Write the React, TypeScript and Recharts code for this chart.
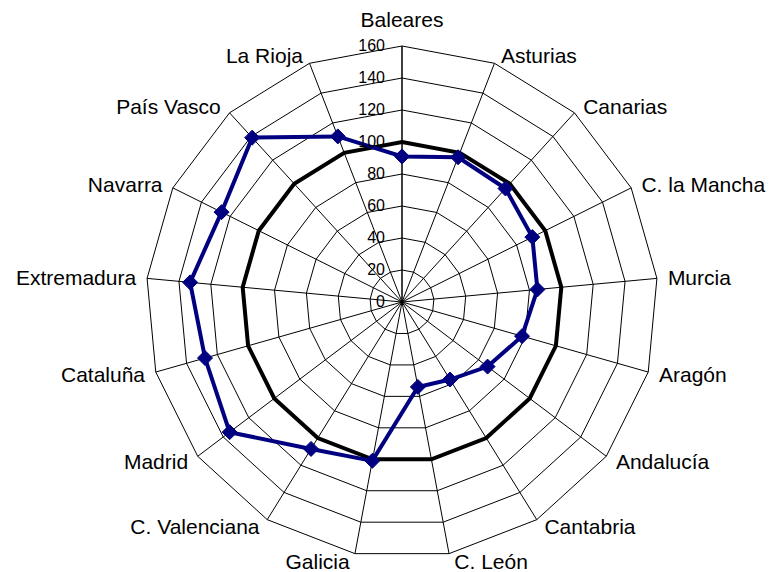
import { RadarChart, Radar, PolarGrid, PolarAngleAxis, PolarRadiusAxis } from 'recharts';

const REGIONS = [
    'Baleares',
    'Asturias',
    'Canarias',
    'C. la Mancha',
    'Murcia',
    'Aragón',
    'Andalucía',
    'Cantabria',
    'C. León',
    'Galicia',
    'C. Valenciana',
    'Madrid',
    'Cataluña',
    'Extremadura',
    'Navarra',
    'País Vasco',
    'La Rioja',
];

const INDEX_VALUES = [91, 97, 96, 91, 85, 78, 67, 57, 54, 101, 108, 135, 128, 133, 126, 139, 111];

// national average = 100
const BASELINE = [100, 100, 100, 100, 100, 100, 100, 100, 100, 100, 100, 100, 100, 100, 100, 100, 100];

const RADIUS_TICKS = [0, 20, 40, 60, 80, 100, 120, 140, 160];

const CX = 402;
const CY = 302;
const OUTER = 256;
const FONT = '"Liberation Sans", Arial, sans-serif';
const NAVY = '#000080';

const chartData = REGIONS.map((name, i) => ({
    name,
    value: INDEX_VALUES[i],
    base: BASELINE[i],
}));

function RegionTick(props: any) {
    const name: string = props.payload?.value;
    const i = REGIONS.indexOf(name);
    const theta = (i * 2 * Math.PI) / REGIONS.length;
    const sx = Math.sin(theta);
    const sy = -Math.cos(theta);
    const px = CX + OUTER * sx;
    const py = CY + OUTER * sy;
    const fontSize = 21;
    let anchor: 'start' | 'middle' | 'end' = 'middle';
    let x = px;
    let yc = py + sy * 27;
    if (Math.abs(sx) > 0.01) {
        anchor = sx > 0 ? 'start' : 'end';
        x = px + Math.sign(sx) * (4 + 7 * Math.abs(sx));
        yc = py + sy * 8;
    }
    return (
        <text
            x={x}
            y={yc + 0.36 * fontSize}
            textAnchor={anchor}
            fontSize={fontSize}
            fontFamily={FONT}
            fill="#000"
        >
            {name}
        </text>
    );
}

function ValueTick(props: any) {
    const { x, y, payload } = props;
    return (
        <text x={x - 17} y={y + 4.7} textAnchor="end" fontSize={16} fontFamily={FONT} fill="#000">
            {payload.value}
        </text>
    );
}

function Diamond(props: any) {
    const { cx, cy } = props;
    if (cx == null || cy == null) return <g />;
    const s = 7.5;
    return (
        <polygon
            points={`${cx},${cy - s} ${cx + s},${cy} ${cx},${cy + s} ${cx - s},${cy}`}
            fill={NAVY}
            stroke={NAVY}
            strokeWidth={1}
        />
    );
}

export default function App() {
    return (
        <div style={{ position: 'absolute', left: 0, top: 0, width: 774, height: 572, background: '#fff' }}>
            <RadarChart
                width={774}
                height={572}
                data={chartData}
                cx={CX}
                cy={CY}
                outerRadius={OUTER}
                margin={{ top: 0, right: 0, bottom: 0, left: 0 }}
            >
                <PolarGrid gridType="polygon" stroke="#000" strokeWidth={1} strokeOpacity={1} />
                <PolarAngleAxis dataKey="name" tick={<RegionTick />} tickLine={false} axisLine={false} />
                <PolarRadiusAxis
                    angle={90}
                    domain={[0, 160]}
                    ticks={RADIUS_TICKS as any}
                    tickCount={9}
                    tick={<ValueTick />}
                    axisLine={{ stroke: '#000' }}
                    tickLine={false}
                />
                <Radar
                    dataKey="base"
                    stroke="#000"
                    strokeWidth={4}
                    fill="none"
                    fillOpacity={0}
                    dot={false}
                    isAnimationActive={false}
                />
                <Radar
                    dataKey="value"
                    stroke={NAVY}
                    strokeWidth={4}
                    fill="none"
                    fillOpacity={0}
                    dot={<Diamond />}
                    isAnimationActive={false}
                />
            </RadarChart>
        </div>
    );
}
